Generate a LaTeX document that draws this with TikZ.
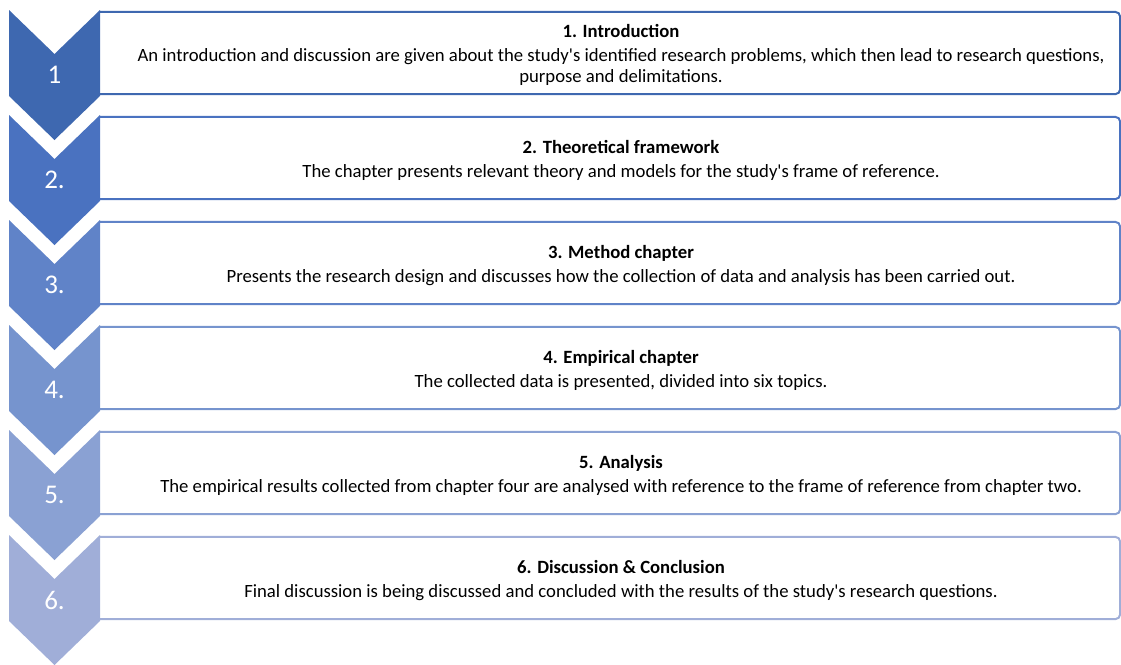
\documentclass[tikz,border=0pt]{standalone}
\usepackage{fontspec}
\setmainfont{Carlito}
\definecolor{ch1}{RGB}{62,104,176}
\definecolor{ch2}{RGB}{74,114,192}
\definecolor{ch3}{RGB}{96,131,200}
\definecolor{ch4}{RGB}{118,148,206}
\definecolor{ch5}{RGB}{138,161,211}
\definecolor{ch6}{RGB}{160,174,216}
\newcommand{\ap}{\textquotesingle}
\begin{document}
\begin{tikzpicture}[x=1pt,y=-1pt,
  numtxt/.style={text=white,font=\fontsize{27}{30}\selectfont,inner sep=0pt},
  boxnode/.style={minimum width=1020pt,minimum height=82pt,inner sep=0pt},
  boxline/.style={draw=#1,line width=2pt,rounded corners=5pt},
  txt/.style={align=center,font=\fontsize{18.7}{21}\selectfont,inner sep=0pt,text=black}]
\useasboundingbox (0,0) rectangle (1121,664);
% chevrons
\foreach \i/\c in {0/ch1,1/ch2,2/ch3,3/ch4,4/ch5,5/ch6}{
  \pgfmathsetmacro{\t}{10+105*\i}
  \fill[\c] (9,\t) -- (54.5,\t+44) -- (100,\t) -- (100,\t+86) -- (54.5,\t+130) -- (9,\t+86) -- cycle;
}
% numbers
\node[numtxt] (n1) at (54.5,75) {1};
\node[numtxt] (n2) at (54.5,180) {2.};
\node[numtxt] (n3) at (54.5,285) {3.};
\node[numtxt] (n4) at (54.5,390) {4.};
\node[numtxt] (n5) at (54.5,495) {5.};
\node[numtxt] (n6) at (54.5,600) {6.};
% boxes
\node[boxnode] (b1) at (610,53) {};
\node[boxnode] (b2) at (610,158) {};
\node[boxnode] (b3) at (610,263) {};
\node[boxnode] (b4) at (610,368) {};
\node[boxnode] (b5) at (610,473) {};
\node[boxnode] (b6) at (610,578) {};
\foreach \b/\c in {b1/ch1,b2/ch2,b3/ch3,b4/ch4,b5/ch5,b6/ch6}{
  \draw[boxline=\c] (\b.north west) -- (\b.north east) -- (\b.south east) -- (\b.south west);
}
% texts
\node[txt] (t1) at (621,55) {\textbf{1. Introduction}\\[3pt]An introduction and discussion are given about the study\ap s identified research problems, which then lead to research questions,\\purpose and delimitations.};
\node[txt] (t2) at (621,160.5) {\textbf{2. Theoretical framework}\\[3pt]The chapter presents relevant theory and models for the study\ap s frame of reference.};
\node[txt] (t3) at (621,265.5) {\textbf{3. Method chapter}\\[3pt]Presents the research design and discusses how the collection of data and analysis has been carried out.};
\node[txt] (t4) at (621,370.5) {\textbf{4. Empirical chapter}\\[3pt]The collected data is presented, divided into six topics.};
\node[txt] (t5) at (621,475.5) {\textbf{5. Analysis}\\[3pt]The empirical results collected from chapter four are analysed with reference to the frame of reference from chapter two.};
\node[txt] (t6) at (621,580.5) {\textbf{6. Discussion \& Conclusion}\\[3pt]Final discussion is being discussed and concluded with the results of the study\ap s research questions.};
\end{tikzpicture}
\end{document}
